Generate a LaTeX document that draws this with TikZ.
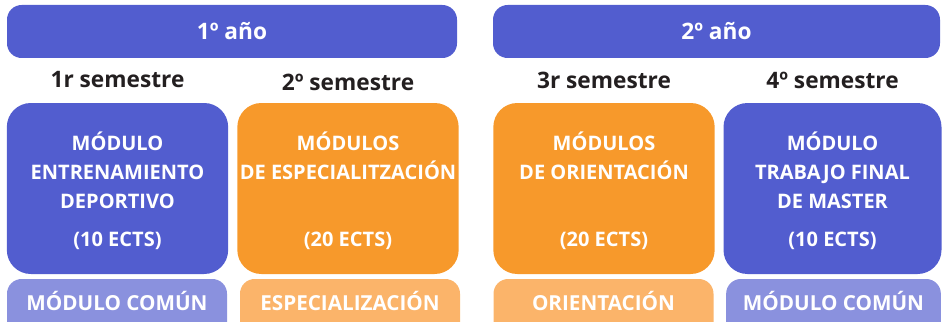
\documentclass[tikz,border=0pt]{standalone}
\usepackage{fontspec}
\setmainfont{Open Sans}
\usetikzlibrary{positioning}
\definecolor{modblue}{RGB}{82,93,207}
\definecolor{modorange}{RGB}{247,153,43}
\definecolor{tagblue}{RGB}{138,145,222}
\definecolor{tagorange}{RGB}{251,180,106}
\definecolor{semgray}{RGB}{35,31,32}
\tikzset{
  yearbar/.style={rectangle,rounded corners=11pt,fill=modblue,minimum height=39.75pt,inner sep=0pt,text=white,font=\fontsize{17}{20}\selectfont\bfseries},
  sem/.style={inner sep=0pt,text=semgray,font=\fontsize{17}{20}\selectfont\bfseries},
  modbox/.style={rectangle,rounded corners=18pt,minimum width=166pt,minimum height=128.25pt,inner sep=0pt},
  tagbox/.style={rectangle,rounded corners=11pt,minimum width=165pt,minimum height=45pt,inner sep=0pt},
  txt/.style={inner sep=0pt,text=white,align=center,font=\fontsize{15.5}{21.4}\selectfont\bfseries},
  boxtxt/.style={txt,font=\fontsize{15}{21.4}\selectfont\bfseries}
}
\begin{document}
\begin{tikzpicture}[x=0.75pt,y=-0.75pt]
\useasboundingbox (0,0) rectangle (945,321); \clip (0,0) rectangle (945,321);
% years
\node[yearbar,minimum width=337.5pt] (y1) at (232,31.5) {1º año};
\node[yearbar,minimum width=335.25pt] (y2) at (716.5,31.5) {2º año};
% modules
\node[modbox,fill=modblue] (m1) at (117.5,188.5) {}; \node[modbox,fill=modorange] (m2) at (348,188.5) {};
\node[modbox,fill=modorange] (m3) at (604,188.5) {}; \node[modbox,fill=modblue,minimum width=163.5pt] (m4) at (832.5,188.5) {};
\node[sem,above=11pt of m1.north] (s1) {1r semestre}; \node[sem,above=9pt of m2.north] (s2) {2º semestre};
\node[sem,above=10pt of m3.north] (s3) {3r semestre}; \node[sem,above=10pt of m4.north] (s4) {4º semestre};
\node[boxtxt,below=22pt of m1.north] (t1) {MÓDULO\\ENTRENAMIENTO\\DEPORTIVO}; \node[boxtxt,below=22pt of m2.north] (t2) {MÓDULOS\\DE ESPECIALITZACIÓN};
\node[boxtxt,below=22pt of m3.north] (t3) {MÓDULOS\\DE ORIENTACIÓN}; \node[boxtxt,below=22pt of m4.north] (t4) {MÓDULO\\TRABAJO FINAL\\DE MASTER};
\node[boxtxt,above=18pt of m1.south] (e1) {(10 ECTS)}; \node[boxtxt,above=18pt of m2.south] (e2) {(20 ECTS)};
\node[boxtxt,above=18pt of m3.south] (e3) {(20 ECTS)}; \node[boxtxt,above=18pt of m4.south] (e4) {(10 ECTS)};
% tags
\node[tagbox,fill=tagblue] (g1) at (117,309) {}; \node[tagbox,fill=tagorange] (g2) at (350,309) {};
\node[tagbox,fill=tagorange] (g3) at (603.5,309) {}; \node[tagbox,fill=tagblue,minimum width=161pt] (g4) at (833.5,309) {};
\node[txt,below=9pt of g1.north] (c1) {MÓDULO COMÚN}; \node[txt,below=9pt of g2.north] (c2) {ESPECIALIZACIÓN};
\node[txt,below=9pt of g3.north] (c3) {ORIENTACIÓN}; \node[txt,below=9pt of g4.north] (c4) {MÓDULO COMÚN};
\end{tikzpicture}
\end{document}
